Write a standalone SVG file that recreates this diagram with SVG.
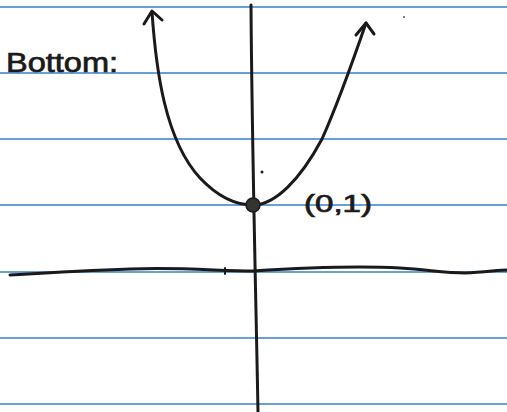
<svg xmlns="http://www.w3.org/2000/svg" width="507" height="412" viewBox="0 0 507 412">
<style>
.rule{stroke:#6a9fd8;stroke-width:2;fill:none}
.ink{stroke:#1a1a1a;fill:none;stroke-linecap:round;stroke-linejoin:round}
.lbl{font-family:"Liberation Sans",Arial,sans-serif;fill:#1a1a1a;stroke:#1a1a1a;stroke-width:0.7}
</style>
<rect width="507" height="412" fill="#ffffff"/>
<g id="paper">
<line class="rule" x1="0" y1="7" x2="507" y2="7"/>
<line class="rule" x1="0" y1="73" x2="507" y2="73"/>
<line class="rule" x1="0" y1="139" x2="507" y2="139"/>
<line class="rule" x1="0" y1="205" x2="507" y2="205"/>
<line class="rule" x1="0" y1="272" x2="507" y2="272"/>
<line class="rule" x1="0" y1="338" x2="507" y2="338"/>
<line class="rule" x1="0" y1="404" x2="507" y2="404"/>
</g>
<g id="axes">
<path class="ink" stroke-width="3" d="M251,5 C252,150 256,300 258,412"/>
<path class="ink" stroke-width="3" stroke="#333" d="M10,275 C60,272 100,270 130,269 C180,267 220,271 253,271 C300,268 360,266 400,268 C430,270 445,273 465,273 C485,272 500,270 507,270"/>
<line class="ink" stroke-width="2" x1="225" y1="268" x2="225" y2="274"/>
</g>
<g id="parabola">
<path class="ink" stroke-width="3" d="M152,12 C156,70 165,140 200,178 C218,197 236,205 253,205 C275,205 300,180 322,139 C335,110 355,55 366,23"/>
<path class="ink" stroke-width="3" d="M144,24 L152,11 L162,20"/>
<path class="ink" stroke-width="3" d="M356,35 L366,23 L374,34"/>
</g>
<g id="point">
<circle cx="253" cy="205" r="7" fill="#333" stroke="#1a1a1a" stroke-width="1.5"/>
<circle cx="262" cy="172" r="1.5" fill="#1a1a1a"/>
<circle cx="404" cy="17" r="1" fill="#555"/>
</g>
<g id="labels">
<text class="lbl" x="6" y="72" font-size="27" textLength="112" lengthAdjust="spacingAndGlyphs">Bottom:</text>
<text class="lbl" x="304" y="212" font-size="23" textLength="68" lengthAdjust="spacingAndGlyphs">(0,1)</text>
</g>
</svg>
